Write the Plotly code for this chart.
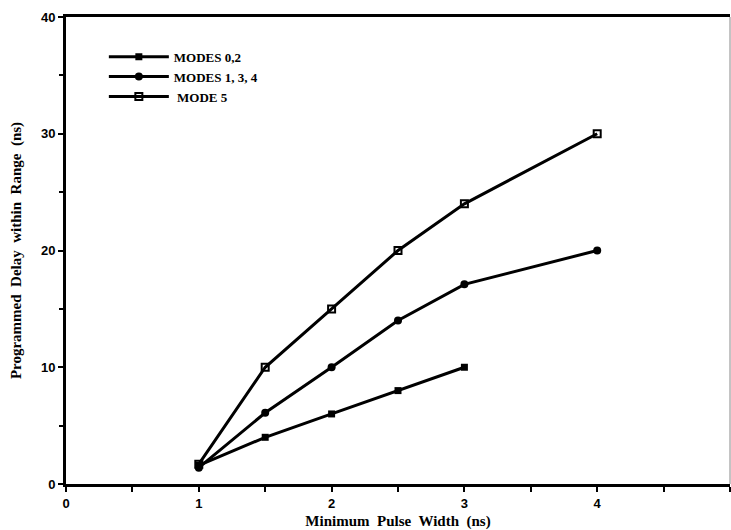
import plotly.graph_objects as go

# Minimum pulse width (ns) and the programmed delay reached within range (ns)
x_modes_02 = [1, 1.5, 2, 2.5, 3]
y_modes_02 = [1.6, 4, 6, 8, 10]

x_modes_134 = [1, 1.5, 2, 2.5, 3, 4]
y_modes_134 = [1.4, 6.1, 10, 14, 17.1, 20]

x_mode_5 = [1, 1.5, 2, 2.5, 3, 4]
y_mode_5 = [1.7, 10, 15, 20, 24, 30]

series_names = ["MODES 0,2", "MODES 1, 3, 4", " MODE 5"]

x_ticks = [0, 1, 2, 3, 4, 5]
y_ticks = [0, 10, 20, 30, 40]

serif = "Liberation Serif, Times New Roman, serif"
sans = "Liberation Sans, Arial, sans-serif"

fig = go.Figure()
line_style = dict(color="black", width=3)

fig.add_trace(go.Scatter(
    x=x_modes_02, y=y_modes_02, name=series_names[0], mode="lines+markers",
    line=line_style, marker=dict(symbol="square", size=7, color="black"),
))
fig.add_trace(go.Scatter(
    x=x_modes_134, y=y_modes_134, name=series_names[1], mode="lines+markers",
    line=line_style, marker=dict(symbol="circle", size=8, color="black"),
))
fig.add_trace(go.Scatter(
    x=x_mode_5, y=y_mode_5, name=series_names[2], mode="lines+markers",
    line=line_style,
    marker=dict(symbol="square-open", size=7, color="black", line=dict(width=2, color="black")),
))

fig.update_layout(
    width=731, height=530,
    margin=dict(l=66, r=1, t=17, b=46),
    paper_bgcolor="white", plot_bgcolor="white",
    showlegend=True,
    legend=dict(
        x=0.057, y=0.947, xanchor="left", yanchor="top",
        font=dict(family=serif, size=13, color="black", weight="bold"),
        bgcolor="rgba(0,0,0,0)", tracegroupgap=0, itemwidth=60,
    ),
    xaxis=dict(
        range=[0, 5], tickvals=x_ticks, ticktext=[str(v) for v in x_ticks],
        showgrid=False, zeroline=False, automargin=False,
        showline=True, linecolor="black", linewidth=3, mirror=True,
        ticks="outside", ticklen=5, tickwidth=2, tickcolor="black",
        minor=dict(dtick=0.5, ticks="outside", ticklen=5, tickwidth=2, tickcolor="black"),
        tickfont=dict(family=sans, size=13, color="black", weight="bold"),
        title=dict(text="Minimum  Pulse  Width  (ns)", standoff=12,
                   font=dict(family=serif, size=15, color="black", weight="bold")),
    ),
    yaxis=dict(
        range=[0, 40], tickvals=y_ticks, ticktext=[str(v) for v in y_ticks],
        showgrid=False, zeroline=False, automargin=False,
        showline=True, linecolor="black", linewidth=3,
        ticks="outside", ticklen=5, tickwidth=2, tickcolor="black",
        minor=dict(dtick=5, ticks="outside", ticklen=4, tickwidth=2, tickcolor="black"),
        tickfont=dict(family=sans, size=13, color="black", weight="bold"),
        title=dict(text="Programmed  Delay  within  Range  (ns)", standoff=16,
                   font=dict(family=serif, size=15, color="black", weight="bold")),
    ),
    shapes=[dict(type="line", xref="paper", yref="paper", x0=1, x1=1, y0=0, y1=1,
                 line=dict(color="#888888", width=1))],
)

fig.write_html("out.html")
